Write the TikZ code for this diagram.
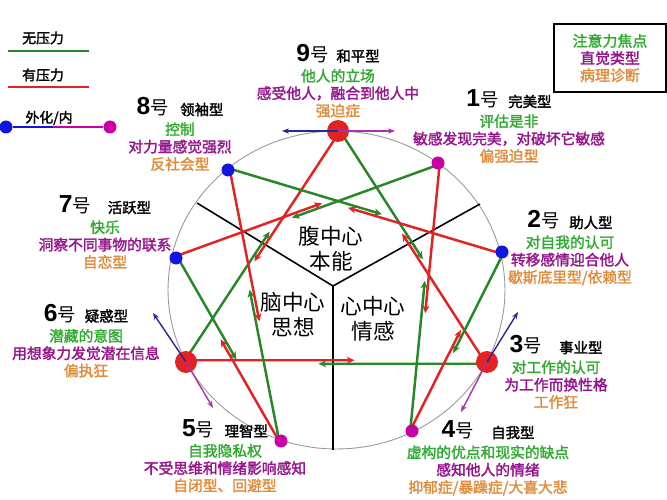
\documentclass[tikz,border=0pt]{standalone}
\usepackage{fontspec}
\setmainfont{Noto Sans CJK SC}[AutoFakeBold=2]
\newfontfamily\numfont{Liberation Sans}
\usepackage{xcolor}
\usetikzlibrary{arrows.meta, positioning, calc}

\definecolor{txtgreen}{RGB}{50,170,50}
\definecolor{txtpurple}{RGB}{150,20,140}
\definecolor{txtorange}{RGB}{225,140,60}
\definecolor{linegreen}{RGB}{40,135,40}
\definecolor{linered}{RGB}{225,35,35}
\definecolor{dotblue}{RGB}{20,20,225}
\definecolor{dotmag}{RGB}{200,0,165}
\definecolor{outblue}{RGB}{40,40,150}
\definecolor{inmag}{RGB}{170,50,170}

\newcommand\hao[1]{{\numfont\bfseries\fontsize{14}{14}\selectfont #1}号}
\newcommand\kind[1]{{\bfseries\fontsize{8.2}{10}\selectfont #1}}
\newcommand\three[3]{{\color{txtgreen}#1}\\{\color{txtpurple}#2}\\{\color{txtorange}#3}}

\begin{document}
\begin{tikzpicture}[x=0.02cm, y=-0.02cm,
    title/.style={inner sep=0pt, anchor=base, font=\fontsize{10.5}{12}\selectfont},
    desc/.style={align=center, inner sep=0pt, font=\bfseries\fontsize{8.4}{9.9}\selectfont},
    core/.style={align=center, inner sep=0pt, font=\fontsize{12.3}{14.2}\selectfont},
    legend/.style={inner sep=0pt, font=\bfseries\fontsize{7.9}{9}\selectfont},
    growth/.style={linegreen, line width=1.4pt, -{Stealth[length=4.5pt, width=4pt]}},
    stress/.style={linered, line width=1.4pt, -{Stealth[length=4.5pt, width=4pt]}},
    outward/.style={outblue, line width=0.8pt, -{Stealth[length=4pt, width=3pt]}},
    inward/.style={inmag, line width=0.8pt, -{Stealth[length=4pt, width=3pt]}},
    bigdot/.style={circle, fill=linered, inner sep=0pt, minimum size=12.5pt},
    bluedot/.style={circle, fill=dotblue, inner sep=0pt, minimum size=7.4pt},
    magdot/.style={circle, fill=dotmag, inner sep=0pt, minimum size=7.4pt},
    node distance=3pt
]
\useasboundingbox (0,0) rectangle (667,500);

% the nine points
\coordinate (p9) at (338,131);
\coordinate (p1) at (438,163);
\coordinate (p2) at (502,252);
\coordinate (p3) at (487,362);
\coordinate (p4) at (412,431);
\coordinate (p5) at (281,441);
\coordinate (p6) at (186,362);
\coordinate (p7) at (176,258);
\coordinate (p8) at (228,170);
\coordinate (ctr) at (333,286);
\coordinate (cutl) at (197,203);
\coordinate (cutr) at (480,204);
\coordinate (cutb) at (333,450);

\draw[gray!80, line width=0.5pt] (336.5,290) ellipse [x radius=3.37cm, y radius=3.18cm];
\draw[line width=0.9pt] (ctr) -- (cutl);
\draw[line width=0.9pt] (ctr) -- (cutr);
\draw[line width=0.9pt] (ctr) -- (cutb);

% growth and stress lines
\foreach \a/\b in {9/3,3/6,6/9,1/7,7/5,5/8,8/2,2/4,4/1} {
  \draw[growth] ($(p\a)!1pt!90:(p\b)$) -- ($($(p\a)!0.56!(p\b)$)!1pt!90:(p\b)$);
  \draw[stress] ($(p\b)!1pt!90:(p\a)$) -- ($($(p\b)!0.56!(p\a)$)!1pt!90:(p\a)$);
}

\node[bigdot] (d9) at (p9) {};
\node[bigdot] (d3) at (p3) {};
\node[bigdot] (d6) at (p6) {};
\node[magdot] (d1) at (p1) {};
\node[magdot] (d4) at (p4) {};
\node[magdot] (d5) at (p5) {};
\node[bluedot] (d2) at (p2) {};
\node[bluedot] (d7) at (p7) {};
\node[bluedot] (d8) at (p8) {};

% outward / inward
\coordinate (o9) at (282,131);
\coordinate (i9) at (395,131);
\coordinate (o6) at (153,313);
\coordinate (i6) at (213,408);
\coordinate (o3) at (518,312);
\coordinate (i3) at (461,412);
\draw[outward] (p9) -- (o9);
\draw[inward] (p9) -- (i9);
\draw[outward] (p6) -- (o6);
\draw[inward] (p6) -- (i6);
\draw[outward] (p3) -- (o3);
\draw[inward] (p3) -- (i3);

% centres
\node[core] (gut) at (331,249) {腹中心\\本能};
\node[core] (head) at (293,315) {脑中心\\思想};
\node[core] (heart) at (373,319) {心中心\\情感};

% type labels
\node[title] (t9) at (338,61.5) {\hao{9}\hspace{4.5pt}\kind{和平型}};
\node[desc, below=of t9] (e9) {\three{他人的立场}{感受他人，融合到他人中}{强迫症}};
\node[title] (t1) at (509,107) {\hao{1}\hspace{5.5pt}\kind{完美型}};
\node[desc, below=of t1] (e1) {\three{评估是非}{敏感发现完美，对破坏它敏感}{偏强迫型}};
\node[title] (t2) at (570,228) {\hao{2}\hspace{5.5pt}\kind{助人型}};
\node[desc, below=of t2] (e2) {\three{对自我的认可}{转移感情迎合他人}{歇斯底里型/依赖型}};
\node[title] (t3) at (556,353) {\hao{3}\hspace{10pt}\kind{事业型}};
\node[desc, below=of t3] (e3) {\three{对工作的认可}{为工作而换性格}{工作狂}};
\node[title] (t4) at (488,438) {\hao{4}\hspace{10pt}\kind{自我型}};
\node[desc, below=of t4] (e4) {\three{虚构的优点和现实的缺点}{感知他人的情绪}{抑郁症/暴躁症/大喜大悲}};
\node[title] (t5) at (225,436.5) {\hao{5}\hspace{6pt}\kind{理智型}};
\node[desc, below=of t5] (e5) {\three{自我隐私权}{不受思维和情绪影响感知}{自闭型、回避型}};
\node[title] (t6) at (86,321.5) {\hao{6}\hspace{5pt}\kind{疑惑型}};
\node[desc, below=of t6] (e6) {\three{潜藏的意图}{用想象力发觉潜在信息}{偏执狂}};
\node[title] (t7) at (105,213) {\hao{7}\hspace{9.5pt}\kind{活跃型}};
\node[desc, below=of t7] (e7) {\three{快乐}{洞察不同事物的联系}{自恋型}};
\node[title] (t8) at (180,115) {\hao{8}\hspace{6.5pt}\kind{领袖型}};
\node[desc, below=of t8] (e8) {\three{控制}{对力量感觉强烈}{反社会型}};

% legend
\node[legend] (lg1) at (43,38) {无压力};
\coordinate (lg1a) at (8,51);
\coordinate (lg1b) at (89,51);
\draw[linegreen, line width=1.7pt] (lg1a) -- (lg1b);
\node[legend] (lg2) at (43,75) {有压力};
\coordinate (lg2a) at (8,87);
\coordinate (lg2b) at (89,87);
\draw[linered, line width=1.7pt] (lg2a) -- (lg2b);
\node[legend] (lg3) at (49,118) {外化/内};
\node[bluedot] (lg3a) at (6,127) {};
\node[magdot] (lg3b) at (110,127) {};
\coordinate (lg3m) at (53,127);
\draw[dotblue, line width=0.9pt] (lg3a) -- (lg3m);
\draw[dotmag, line width=0.9pt] (lg3m) -- (lg3b);

% key box
\node[draw, line width=1pt, minimum width=63.5pt, minimum height=38.5pt, align=center,
      inner sep=0pt, font=\bfseries\fontsize{8.5}{9.8}\selectfont] (key) at (610,58)
      {\three{注意力焦点}{直觉类型}{病理诊断}};
\end{tikzpicture}
\end{document}
